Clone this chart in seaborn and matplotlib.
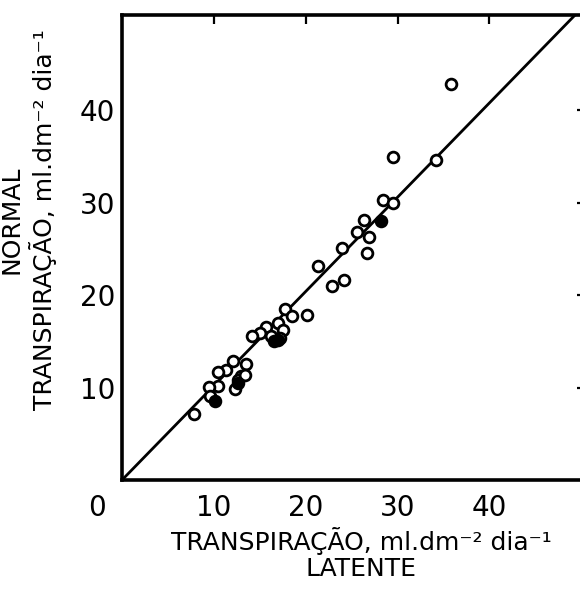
import seaborn as sns
import matplotlib.pyplot as plt
import pandas as pd

# open circles
OPEN_X = [35.8, 29.5, 34.2, 28.4, 29.5, 26.3, 25.6, 26.9, 26.7, 23.9,
          21.3, 24.2, 22.9, 20.1, 17.7, 18.5, 17.0, 17.5, 15.7, 15.0,
          14.1, 16.2, 17.2, 13.5, 12.1, 12.9, 12.3, 11.3, 10.4, 10.5,
          9.5, 9.6, 7.8, 12.6, 13.4]
OPEN_Y = [42.8, 34.9, 34.6, 30.3, 30.0, 28.1, 26.8, 26.3, 24.6, 25.1,
          23.2, 21.6, 21.0, 17.9, 18.5, 17.7, 17.0, 16.2, 16.5, 15.9,
          15.6, 15.6, 15.4, 12.5, 12.9, 11.3, 9.9, 11.9, 11.7, 10.2,
          10.1, 9.1, 7.1, 10.8, 11.4]
# filled circles
FILL_X = [28.2, 10.1, 16.5, 17.0, 12.6]
FILL_Y = [28.0, 8.6, 15.0, 15.2, 10.5]

# 1:1 line
LINE_X = [0, 50]
LINE_Y = [0, 51]

TICKS = [10, 20, 30, 40]
XLABEL = "TRANSPIRAÇÃO, ml.dm\u207b\u00b2 dia\u207b\u00b9\nLATENTE"
YLABEL = "NORMAL\nTRANSPIRAÇÃO, ml.dm\u207b\u00b2 dia\u207b\u00b9"

sns.set_style("white")
plt.rcParams["font.family"] = ["DejaVu Sans"]
plt.rcParams["text.color"] = "black"
plt.rcParams["axes.labelcolor"] = "black"

df_open = pd.DataFrame({"latente": OPEN_X, "normal": OPEN_Y})
df_fill = pd.DataFrame({"latente": FILL_X, "normal": FILL_Y})

fig = plt.figure(figsize=(5.8, 5.89), dpi=100)
# right spine sits just past the image edge, as in the scan
ax = fig.add_axes([0.2103, 0.185, 0.80, 0.7895])

sns.lineplot(x=LINE_X, y=LINE_Y, ax=ax, color="black", lw=2.0)
sns.scatterplot(data=df_open, x="latente", y="normal", ax=ax, s=60,
                facecolor="white", edgecolor="black", linewidth=2.0, zorder=3)
sns.scatterplot(data=df_fill, x="latente", y="normal", ax=ax, s=60,
                color="black", edgecolor="black", linewidth=2.0, zorder=4)

ax.set_xlim(0, 50.5)
ax.set_ylim(0, 50.3)
ax.set_xticks(TICKS)
ax.set_yticks(TICKS)
ax.tick_params(direction="in", length=6.5, width=1.6, labelsize=20,
               top=True, right=True, colors="black")
ax.tick_params(axis="x", pad=10)
ax.tick_params(axis="y", pad=5)
for side in ["left", "bottom", "top", "right"]:
    ax.spines[side].set_linewidth(2.6)
    ax.spines[side].set_color("black")

ax.set_xlabel(XLABEL, fontsize=18, linespacing=1.15)
ax.set_ylabel(YLABEL, fontsize=18, linespacing=1.25)
ax.xaxis.set_label_coords(0.515, -0.1)
ax.yaxis.set_label_coords(-0.14, 0.56)

ax.text(-0.054, -0.03, "0", transform=ax.transAxes, ha="center", va="top",
        fontsize=20)

fig.savefig("out.png", dpi=100)
